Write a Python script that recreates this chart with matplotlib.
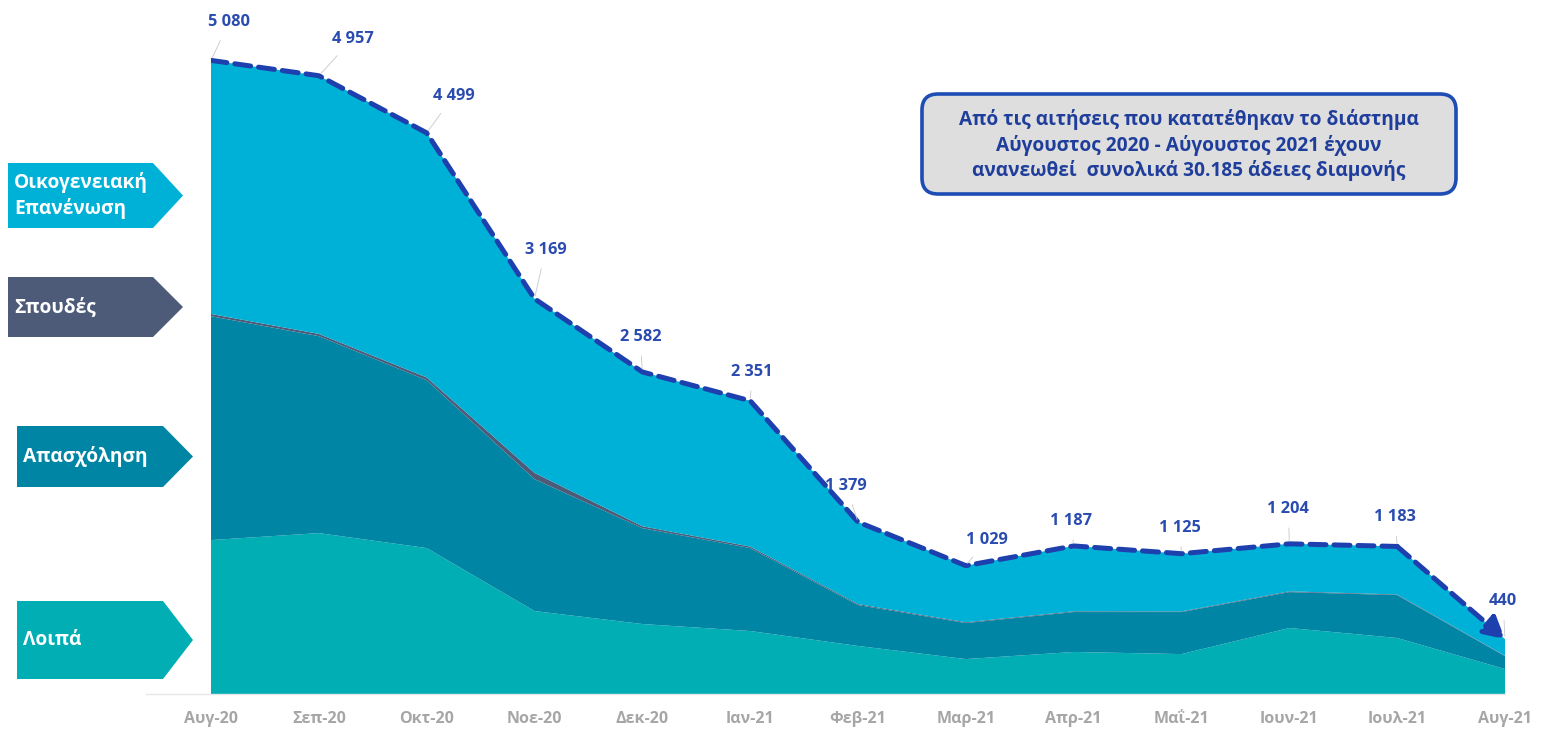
import matplotlib
matplotlib.use('Agg')
import matplotlib.pyplot as plt
from matplotlib.patches import Polygon, FancyBboxPatch
import numpy as np

plt.rcParams['font.family'] = ['Open Sans', 'DejaVu Sans']

months = ['Αυγ-20', 'Σεπ-20', 'Οκτ-20', 'Νοε-20', 'Δεκ-20', 'Ιαν-21', 'Φεβ-21',
          'Μαρ-21', 'Απρ-21', 'Μαΐ-21', 'Ιουν-21', 'Ιουλ-21', 'Αυγ-21']
loipa = [1234, 1290, 1170, 665, 561, 505, 385, 280, 337, 320, 529, 449, 200]
apasxolisi = [1795, 1579, 1346, 1058, 769, 665, 328, 289, 320, 337, 288, 344, 104]
spoudes = [18, 18, 22, 50, 15, 12, 8, 6, 6, 5, 6, 5, 3]
oikogeneiaki = [2033, 2070, 1961, 1396, 1237, 1169, 658, 454, 524, 463, 381, 385, 133]
totals = [5080, 4957, 4499, 3169, 2582, 2351, 1379, 1029, 1187, 1125, 1204, 1183, 440]

series_names = ['Λοιπά', 'Απασχόληση', 'Σπουδές', 'Οικογενειακή\nΕπανένωση']
colors = ['#00AEB4', '#0086A4', '#4D5A78', '#00B1D7']

# label offsets in pixels (dx, dy up)
label_off = [(18, 38), (34, 37), (27, 37), (11, 49), (-2, 35), (2, 29), (-12, 36),
             (21, 26), (-3, 25), (-2, 26), (-1, 35), (-2, 29), (-2, 38)]

W, H = 1542, 731
fig = plt.figure(figsize=(W / 100, H / 100), dpi=100)
ax = fig.add_axes([211 / W, 1 - 694 / H, (1505 - 211) / W, (694 - 8) / H])

x = np.arange(len(months))
ax.stackplot(x, loipa, apasxolisi, spoudes, oikogeneiaki, colors=colors, linewidth=0)
ax.plot(x[:-1], totals[:-1], color='#1E3FAE', lw=3.6, dashes=(3.2, 1.6),
        solid_capstyle='round', dash_capstyle='round', zorder=5)
ax.annotate('', xy=(x[-1], totals[-1]), xytext=(x[-2], totals[-2]),
            arrowprops=dict(arrowstyle='-|>,head_length=1.3,head_width=0.7',
                            color='#1E3FAE', lw=3.6, linestyle=(0, (3.2, 1.6)),
                            shrinkA=0, shrinkB=0), zorder=6)

for xi, tv, (dx, dy) in zip(x, totals, label_off):
    lab = f'{tv:,}'.replace(',', ' ')
    ax.annotate(lab, xy=(xi, tv), xytext=(dx * 0.72, dy * 0.72), textcoords='offset points',
                ha='center', va='center', fontsize=11.8, fontweight='bold', color='#2A4BB0',
                arrowprops=dict(arrowstyle='-', color='#C8C8C8', lw=0.6, shrinkA=6, shrinkB=2),
                zorder=7)

ax.set_xlim(0, 12)
ax.set_ylim(0, 5500)
for s in ax.spines.values():
    s.set_visible(False)
ax.set_yticks([])
ax.set_xticks(x)
ax.set_xticklabels(months, fontsize=11.5, fontweight='bold', color='#A6A6A6')
ax.tick_params(axis='x', length=0, pad=12)
ax.axhline(0, color='#E6E6E6', lw=1, xmin=-0.05, clip_on=False)

# overlay for decorations in pixel coordinates
ov = fig.add_axes([0, 0, 1, 1], facecolor='none')
ov.set_xlim(0, W)
ov.set_ylim(H, 0)
ov.axis('off')

boxes = [(8, 153, 183, 163, 228), (8, 153, 183, 277, 337),
         (17, 163, 193, 426, 487), (17, 163, 193, 601, 679)]
order = [3, 2, 1, 0]
for (x0, x1, x2, y0, y1), si in zip(boxes, order):
    ym = (y0 + y1) / 2
    ov.add_patch(Polygon([(x0, y0), (x1, y0), (x2, ym), (x1, y1), (x0, y1)],
                         closed=True, facecolor=colors[si], edgecolor='none'))
    ov.text(x0 + 6, ym, series_names[si], ha='left', va='center', color='white',
            fontsize=13.8, fontweight='bold', linespacing=1.35)

ov.add_patch(FancyBboxPatch((922, 94), 534, 100, boxstyle='round,pad=0,rounding_size=16',
                            facecolor='#DEDEDE', edgecolor='#1E4DB5', lw=2.6))
ov.text(1189, 145, 'Από τις αιτήσεις που κατατέθηκαν το διάστημα\n'
        'Αύγουστος 2020 - Αύγουστος 2021 έχουν\n'
        'ανανεωθεί  συνολικά 30.185 άδειες διαμονής',
        ha='center', va='center', fontsize=13.8, fontweight='bold', color='#1F3E9C',
        linespacing=1.3)

fig.savefig('out.png', dpi=100)
